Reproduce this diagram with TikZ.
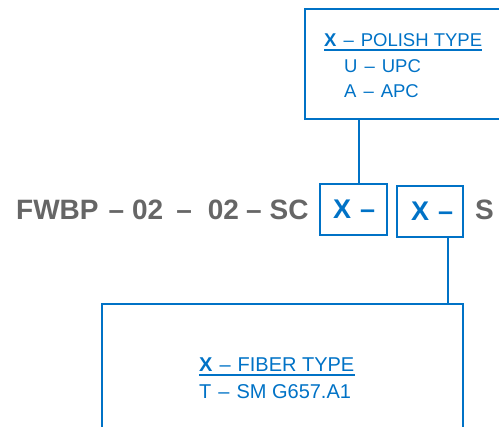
\documentclass[tikz,border=0pt]{standalone}
\usepackage{fontspec}
\setmainfont{Liberation Sans}
\definecolor{fblue}{RGB}{0,114,198}
\definecolor{fgray}{RGB}{102,102,102}
\newcommand{\mydsh}{\hspace{7pt}–\hspace{7pt}}
\begin{document}
\begin{tikzpicture}[x=1pt,y=-1pt,
  box/.style={draw=fblue, line width=2pt, inner sep=0pt},
  conn/.style={draw=fblue, line width=2pt},
  lbl/.style={text=fblue, font=\fontsize{18.5}{18.5}\selectfont, anchor=base west, inner sep=0pt},
  lblb/.style={text=fblue, font=\fontsize{20}{20}\selectfont, anchor=base west, inner sep=0pt},
  code/.style={text=fgray, font=\fontsize{28}{28}\selectfont\bfseries, anchor=base west, inner sep=0pt},
  xcode/.style={text=fblue, font=\fontsize{27}{27}\selectfont\bfseries, anchor=base west, inner sep=0pt}]
\useasboundingbox (0,0) rectangle (499,427);
\clip (0,0) rectangle (499,427);
% boxes
\node[box, minimum width=210pt, minimum height=110pt] (top) at (410,64) {};
\node[box, minimum width=67pt, minimum height=51pt] (b1) at (353.5,209.5) {};
\node[box, minimum width=66pt, minimum height=51pt] (b2) at (430,211.5) {};
\node[box, minimum width=361pt, minimum height=140pt] (bot) at (282.5,374) {};
% connectors
\coordinate (c1) at (359,0);
\coordinate (c2) at (448,0);
\draw[conn] (top.south -| c1) -- (b1.north -| c1);
\draw[conn] (b2.south -| c2) -- (bot.north -| c2);
% main code
\node[code] (code) at (16,220) {FWBP\hspace{10pt}–\hspace{8pt}02\hspace{13pt}–\hspace{16pt}02\hspace{7pt}–\hspace{8pt}SC};
\node[xcode] (x1) at (333,219) {X\hspace{9pt}–};
\node[xcode] (x2) at (411,221) {X\hspace{9pt}–};
\node[code] (s) at (475,220) {S};
% polish type
\node[lbl] (pt) at (324,47) {\textbf{X}\mydsh POLISH TYPE};
\draw[fblue, line width=1.5pt] ([yshift=-3pt]pt.base west) -- ([yshift=-3pt]pt.base east);
\node[lbl] (u) at (344,73) {U\mydsh UPC};
\node[lbl] (a) at (344,98) {A\mydsh APC};
% fiber type
\node[lblb] (ft) at (199,372) {\textbf{X}\mydsh FIBER TYPE};
\draw[fblue, line width=1.5pt] ([yshift=-3pt]ft.base west) -- ([yshift=-3pt]ft.base east);
\node[lblb] (t) at (199,399) {T\mydsh SM G657.A1};
\end{tikzpicture}
\end{document}
